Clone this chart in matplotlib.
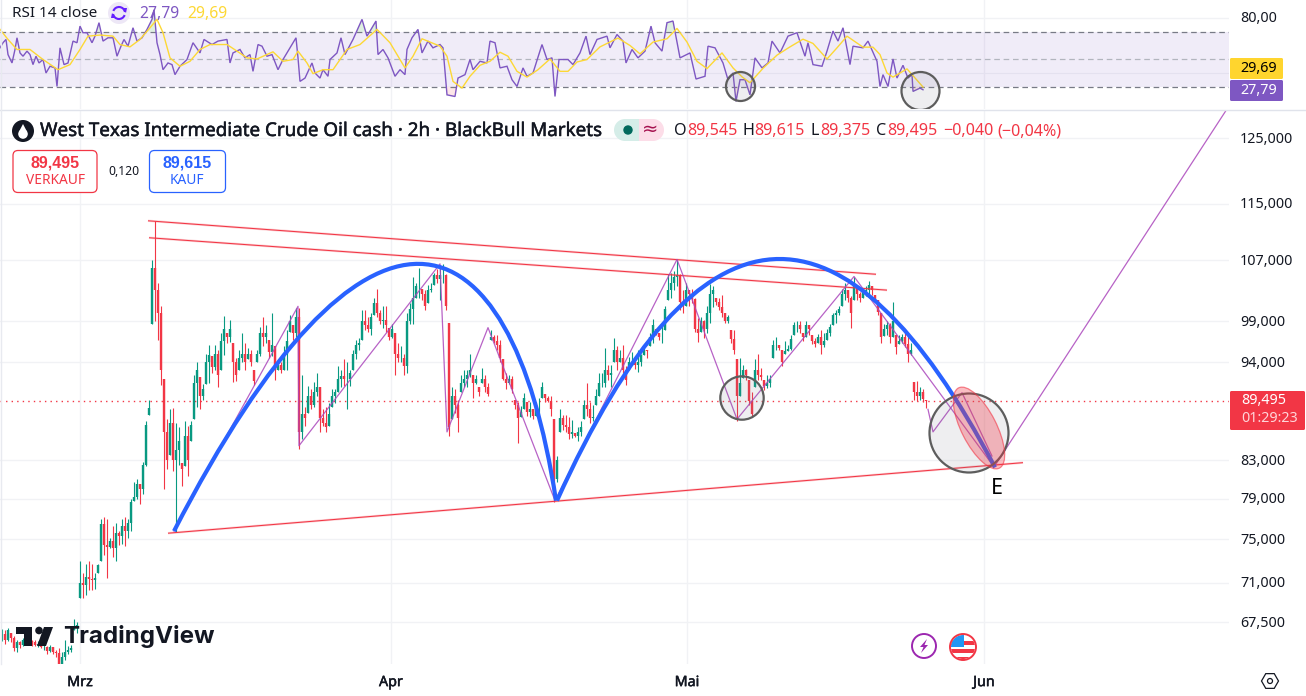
import numpy as np
import matplotlib
matplotlib.use("Agg")
import matplotlib.pyplot as plt
import matplotlib.patheffects as pe
from matplotlib.path import Path
from matplotlib.transforms import ScaledTranslation
from matplotlib.patches import Circle, Ellipse, Rectangle, FancyBboxPatch, Polygon, Arc, PathPatch

FONT = "Noto Sans"
plt.rcParams["font.family"] = [FONT, "DejaVu Sans"]

# ---------- price data (thousands) ----------
candle_high = [
 66.9,66.8,67.0,66.6,66.3,66.0,65.9,66.2,66.4,66.2,
 66.0,66.0,65.9,65.8,65.7,65.5,65.6,65.4,65.2,65.3,
 65.0,66.0,65.5,65.6,67.8,67.5,73.0,71.9,72.7,73.0,
 72.7,71.9,72.7,77,77.2,77,75.1,76.3,76.6,75.8,
 77,77.2,77,79,80.7,81,80.5,82.8,87.2,89.6,
 107,112.4,104,101,92,87.4,88.5,88.7,87,86.5,
 82.7,87.2,86.6,87.2,92.4,94,92.2,91.4,95,96,
 94.7,96,95.5,97.5,99.7,97.5,99.1,96.3,94.5,95.5,
 97.5,96.3,95.7,95.5,93.1,95.5,98.3,99.5,98.5,96.7,
 100,95.9,94.3,94,95.9,97.9,99.8,98.5,100.7,100.7,
 92.5,88.8,91.2,90.8,91.6,92.7,91,88.5,88.8,89.2,
 90.8,90.8,93.5,93.1,94.3,94,93.1,95.5,96.7,96.9,
 100.4,100.4,99.5,100,102,103.2,100.4,100.9,101,98.1,
 98.7,97.5,96.3,95.9,95,100,101.3,104.7,104,106,
 103.2,103,103.7,104,105.3,105.8,106,106.5,105.2,98.8,
 91.1,90.8,89.6,92.5,93,93,95,92.5,92.5,91,
 93.3,92.5,91.5,97.9,97.3,97.3,96.7,94.3,92.7,92.5,
 92.3,89.6,89.3,88.9,90.4,89.3,89.3,88.5,89.3,89.8,
 91.6,90.2,90,90,87.4,83.4,88.5,87.9,87.9,87.6,
 87.3,85.9,86.5,87.2,89.6,91.5,89.3,89,90.8,92.7,
 92.7,95.7,93.7,93.7,96.9,95.9,95.4,96,93.5,94.6,
 95.2,94.5,95.5,95,96,95.5,97.5,99.3,98,97.5,
 98.7,101,105.2,105.3,105.6,107,105.2,103,104,103,
 103.2,102,99.4,99.5,99.1,100.9,103.8,103.5,102,102,
 102.3,100,99.8,97.9,97.9,94.3,94.5,93.6,93.2,91.9,
 90.5,94.3,95,93.3,91.9,92.5,92.5,96.7,97,96,
 95.5,96.5,96,97.3,98.9,99,99,97.5,99,98.5,
 97.3,96.9,97.4,97.9,97.5,98,98.7,100,100.4,100.9,
 103.2,104,103,102.2,104.7,103.3,102.7,103.3,103.5,104.2,
 103.5,102.3,101.7,100,98.7,99,98.8,101.4,97.3,97.3,
 97.4,98,97.3,96.3,91.6,91.8,91.1,90.8,89.6]
candle_low = [
 65.9,65.7,65.9,65.8,65.1,65.0,65.3,65.5,65.8,65.7,
 65.5,65.5,65.4,65.3,65.2,64.8,65.0,64.8,64.6,63.7,
 63.8,64.3,64.8,65.0,66.8,66.6,69.6,69.6,69.9,70.3,
 70.3,70.4,71.9,73,73.5,71.4,74.2,73.3,73,74.5,
 74.6,74.4,75.1,75.8,78.8,79,78.5,79.5,82.4,87.9,
 98.7,99,96.7,91.3,80,82,83.5,81.8,75.7,82.5,
 80.3,82.4,81.3,85,87.4,88.8,88.5,89.6,91.4,91.5,
 92.7,93.1,91,93.1,94.8,96.3,96.4,91.6,91.7,93,
 94,93.1,94.3,93.5,91.3,94,94.7,95.9,96.3,94.5,
 94.7,91.9,93.1,92.7,93.1,93,97.6,96.7,97,84.2,
 85.2,86.6,88.1,88.5,88.8,90,86,86.6,86,86.6,
 88.8,89.2,90.5,91,91.2,88.5,91.2,93.1,94.3,95.5,
 96.7,97.9,97.6,97.3,99.8,99.5,98.7,98.1,97.7,96.7,
 96.9,92.5,94,94,92.5,92.7,98.7,98.7,102,102,
 101.7,100.4,101.3,102.7,103.7,104,101.7,104,100.4,85.5,
 87.4,88.1,86,90.5,91,91,92.2,89.8,91.4,90,
 91.5,90.5,90,96.7,96.3,95.5,94,91.9,90.8,91.4,
 90.4,88.5,84.8,87.7,88.5,87.8,87.7,87.4,87.8,88,
 89.8,89.3,89.3,87.8,78.7,80.7,86,86.2,86,85.2,
 85.3,85.4,85,85.6,87.4,87.8,87,87.2,89,90,
 91.1,91.1,91.9,91,94,93.1,94,92.7,91.3,93.1,
 93.6,93.2,92.8,93.5,94.8,94.5,95.9,96.3,97.3,96.7,
 96.3,97.9,101.7,102,103,103.5,100.4,100.1,101,101,
 101.3,97.7,96.4,97.6,96.9,97.5,98.8,100.8,101.1,100.4,
 99.5,98.8,98.8,96.3,95,87.2,90,92.1,91.9,89,
 87.6,91,91.9,91.9,90.7,90.9,91,94.5,95.5,95.4,
 93.5,95,95.3,95.5,97.3,97.7,97.5,96.5,97,97.3,
 96.2,95.8,96.3,95,95.8,96.7,97.2,98.5,98.8,99.8,
 100.9,101.7,101.5,98.1,101.7,101.7,101.5,102,102.2,102.2,
 102.4,101.5,99.8,96.3,97.2,97.3,96.3,97,95,96.2,
 96.3,95.8,94,94.8,89.6,89.5,89.6,89.3,88.7]
candle_close = [
 66.5,66.0,66.8,66.2,65.3,65.8,65.6,66.0,66.2,65.9,
 65.8,65.6,65.7,65.4,65.4,65.1,65.4,65.0,64.9,63.9,
 64.6,65.0,65.2,65.3,67.0,67.3,71.0,70.8,71.5,71.3,
 71.2,71.4,72.6,76.5,74.5,74.3,74.9,74.2,75.6,75.3,
 76.3,75.8,76.6,78.7,79.2,80.5,80,82.5,86.8,88.7,
 106,103,100,93,86,83,87,83,84,85,
 82,85.6,83,86.8,91.5,93,90,90.8,94,94.8,
 93.4,95,92.5,96.5,98,97,98,94,92.5,94.5,
 95,94,95,94,91.8,95,97.5,97,97.5,95.2,
 96,93,93.6,93,95,96.5,99,97.5,99.5,86,
 88,87.5,90,89,90.5,91,87.5,87,86.5,88,
 90,90.5,92,92.3,92,92,92.7,95,96,96.3,
 99,98.5,98,99.5,101.3,100,99,99.2,98.5,97,
 98,95,94.5,94.5,93.5,99,100.5,102,103.5,103.5,
 102.5,101,103,103.2,105,104.5,105,105,101,86.5,
 90,89,87.5,91.5,92,92.5,93,91.5,92,90.5,
 92,91,90.3,97,96.5,96,94.5,92,91.5,92,
 90.8,89,87.5,88.2,89.8,88.2,88.5,87.8,89,89,
 91,89.8,89.5,88.5,81,83,87.5,86.8,86.5,85.8,
 86,85.6,86,86.5,89,88.5,87.5,87.7,90,91.5,
 91.5,93,92.5,92.7,95.5,94,94.5,93,91.9,94,
 94,93.6,94,94.8,95.5,95.3,97,98.5,97.7,97,
 97,100.5,103,104,104.7,105,101.5,101,103,102.5,
 101.8,98,97.5,99,98,100,102.5,103,101.5,100.8,
 100,99,99.5,96.8,95.5,90,91.5,93,92.5,89.5,
 88,93,92.5,92.2,91.2,91.5,92,96,96,95.7,
 94,95.3,95.6,96.8,98.5,98.5,98,97,98.5,98,
 96.5,96.2,97,96,96.5,97.5,98.3,99.8,100,100.5,
 102.5,103,102,100,103.5,102.5,102,102.8,103,103.7,
 103,101.8,100.2,97,98,98.5,97,99,95.8,96.6,
 97,96.2,95,95.5,90.5,90,90.5,89.7,89.5]
candle_first_x = 2
candle_step = 3
last_price = 89.495

# drawings
zigzag_x = [174,298,299,440,447,488,555,677,737,854,993]
zigzag_p = [75.8,100.9,84.5,106.5,86.0,98.2,78.8,107.1,87.4,104.8,82.4]
zigzag2_x = [928,933,962,992]
zigzag2_p = [88.5,86.0,90.4,83.4]
leg_x = [995,1227]
leg_p = [82.4,129.7]
trend_x = [[148,876],[149,887],[168,1023]]
trend_p = [[112.5,105.1],[110.1,103.0],[75.6,82.7]]
# arcs: start, two control points, end of each drawn curve
arc1_x = [174,365,510,556]
arc1_p = [75.8,121.5,115.6,78.8]
arc2_x = [557,699,845,995]
arc2_p = [78.8,117.6,118.1,82.2]

price_ticks = [125,115,107,99,94,83,79,75,71,67.5]
price_labels = ["125,000","115,000","107,000","99,000","94,000","83,000","79,000","75,000","71,000","67,500"]
month_ticks = [80,391,687,984]
month_labels = ["Mrz","Apr","Mai","Jun"]

# RSI
rsi_x = [0,3,6,8,12,15,17,20,23,27,30,33,36,39,43,46,50,55,57,60,64,68,73,77,80,83,87,92,95,99,103,108,113,117,121,124,128,133,137,142,147,152,154,157,160,163,168,172,175,180,187,193,200,204,212,218,227,230,233,240,245,250,253,258,262,267,272,278,283,290,296,298,300,305,312,315,320,323,328,330,337,341,345,353,362,367,376,378,383,388,395,400,405,407,412,418,422,428,433,
 440,443,447,455,458,465,470,473,480,487,490,495,500,507,512,517,523,527,533,542,547,552,555,559,568,573,580,586,590,597,607,610,617,623,626,632,638,645,651,655,662,667,673,680,690,696,705,708,715,723,728,733,736,740,745,750,755,762,768,772,780,788,797,805,808,813,822,827,833,838,843,850,853,863,868,877,880,883,888,893,897,903,908,912,913,920,923]
rsi_val = [58.3,62,64.4,53.4,47.3,57.1,65.6,54.6,52.2,55.9,53.4,46.1,52.2,47.3,49.8,40,44.9,43.7,30.2,58.3,46.1,47.3,63.2,62,74.1,69.3,69.3,62,66.8,76.6,63.2,65.6,65.6,52.2,59.5,64.4,59.5,72.9,63.2,65.6,71.7,79,86,62,53.4,42.4,47.3,46.1,38.8,44.9,49.8,62,54.6,64.4,60.7,63.2,64.4,47.3,54.6,57.1,51,53.4,41.2,60.7,59.5,52.2,53.4,42.4,49.8,58.3,65.6,51,33.9,36.3,47.3,40,36.3,42.4,37.6,49.8,54.6,65.6,53.4,64.4,79,66.8,77.8,53.4,57.1,51,37.6,42.4,38.8,57.1,65.6,71.7,54.6,63.2,58.3,
 60.7,58.3,24.1,22.9,36.3,38.8,49.8,42.4,48.5,47.3,63.2,62,43.7,44.9,35.1,30.2,43.7,37.6,40,60.7,49.8,51,22.9,49.8,49.8,46.1,54.6,66.8,53.4,64.4,66.8,58.3,68,63.2,47.3,57.1,51,55.9,74.1,62,55.9,76.6,77.8,51,54.6,35.6,37.6,59.5,58.3,47.3,35.1,40,19.3,35.1,35.1,24.1,51,43.7,47.3,63.2,54.6,66.8,69.3,52.2,62,46.1,44.9,55.9,70.5,63.2,72.9,46.1,59.5,58.3,63.2,48.5,30.2,38.8,30.2,50.2,36.3,45.6,36.3,38.8,26.6,29,27.8]
ma_x = [0,8,17,30,43,58,70,80,88,100,113,120,130,140,150,157,163,170,180,190,200,210,227,237,247,257,273,283,293,298,307,313,323,333,347,360,377,390,405,413,422,440,447,453,462,470,480,490,500,508,517,527,538,550,560,568,577,587,600,618,630,640,653,667,677,687,697,707,722,733,742,750,763,777,790,803,813,827,837,847,863,873,880,887,893,907,923]
ma_val = [71.7,64.4,57.1,57.1,49.8,42.4,46.1,57.1,66.8,67.6,66.8,60.7,59,64.4,72.9,79,69.3,51,44.9,48.5,57.1,60.7,60.7,55.9,51,50.2,55.4,48.5,49.8,55.9,47.3,39.5,42.4,42.4,57.1,60.7,71.7,62,43.7,52.2,64.9,59.5,52.2,33.9,29,37.6,45.6,48.5,55.1,52.2,41.2,37,42.4,50.2,41.2,41.2,48,49.8,59,65.4,60,53.9,62.5,64.9,72.4,62.5,48.5,43.2,54.6,43.7,37.2,32.9,43.4,53,59,64.6,61.5,50.2,58.3,66.8,58.8,58.8,53.4,40,37,43,29.8]
rsi_ticks = [80]
rsi_labels = ["80,00"]

# ---------- colours ----------
UP, DOWN = "#089981", "#f23645"
BLUE, PURPLE, ZIG = "#2962ff", "#7e57c2", "#ab47bc"
YELLOW, TEXT, GRID = "#fdd835", "#131722", "#f1f2f5"

W, H = 1306, 696
fig = plt.figure(figsize=(W/100, H/100), dpi=100, facecolor="white")

def area(l, t, r, b):
    return [l/W, 1-b/H, (r-l)/W, (b-t)/H]

def nudge(labels, dy_px):
    off = ScaledTranslation(0, dy_px/100, fig.dpi_scale_trans)
    for lab in labels:
        lab.set_transform(lab.get_transform() + off)

thick = [pe.withStroke(linewidth=0.35, foreground=TEXT)]

# ---------- RSI pane ----------
ar = fig.add_axes(area(0, 0, 1229, 109))
ar.set_xlim(0, 1229); ar.set_ylim(13.8, 93.1)
ar.axhspan(30, 70, color=PURPLE, alpha=0.11, lw=0)
ar.axhline(40, color="#e4e1ef", lw=0.8, zorder=1)
ar.axhline(70, color="#787b86", lw=0.9, ls=(0, (4.5, 3)))
ar.axhline(30, color="#787b86", lw=0.9, ls=(0, (4.5, 3)))
ar.axhline(50, color="#b2b5be", lw=0.9, ls=(0, (4.5, 3)))
rv = np.array(rsi_val); rx = np.array(rsi_x)
ar.fill_between(rx, 70, rv, where=rv > 70, interpolate=True, color="#4caf50", alpha=0.18, lw=0)
ar.fill_between(rx, 30, rv, where=rv < 30, interpolate=True, color="#f23645", alpha=0.12, lw=0)
ar.plot(rx, rv, color=PURPLE, lw=1.0, solid_joinstyle="miter", zorder=3)
ar.plot(ma_x, ma_val, color=YELLOW, lw=1.0, zorder=4)
ar.yaxis.tick_right()
ar.set_yticks(rsi_ticks); ar.set_yticklabels(rsi_labels, fontsize=10.3, color=TEXT)
ar.set_xticks(month_ticks); ar.set_xticklabels([])
ar.tick_params(length=0, pad=8)
ar.grid(True, color=GRID, lw=1)
ar.set_axisbelow(True)
for s in ar.spines.values():
    s.set_visible(False)
nudge(ar.get_yticklabels(), 2)

# ---------- price pane ----------
ax = fig.add_axes(area(0, 110, 1229, 664))
ax.set_xlim(0, 1229); ax.set_yscale("log"); ax.set_ylim(64.01, 129.53)
ax.yaxis.tick_right()
ax.set_yticks(price_ticks); ax.set_yticklabels(price_labels, fontsize=10.3, color=TEXT)
ax.yaxis.set_minor_locator(matplotlib.ticker.NullLocator())
ax.set_xticks(month_ticks)
ax.set_xticklabels(month_labels, fontsize=10.3, color=TEXT, path_effects=thick)
ax.tick_params(length=0)
ax.tick_params(axis="y", pad=8)
ax.tick_params(axis="x", pad=8)
ax.grid(True, color=GRID, lw=1)
ax.set_axisbelow(True)
for s in ax.spines.values():
    s.set_visible(False)
nudge(ax.get_yticklabels(), 0.7)

ax.axhline(last_price, color=DOWN, lw=1, ls=(0, (1, 3)), zorder=2)

closes = np.array(candle_close); highs = np.array(candle_high); lows = np.array(candle_low)
cx = candle_first_x + candle_step*np.arange(len(closes))
opens = np.clip(np.r_[closes[0], closes[:-1]], lows, highs)
cols = [UP if c >= o else DOWN for o, c in zip(opens, closes)]
ax.vlines(cx, lows, highs, colors=cols, lw=0.8, zorder=3)
ax.vlines(cx, opens, closes, colors=cols, lw=1.7, zorder=3)

for xs, ps in zip(trend_x, trend_p):
    ax.plot(xs, ps, color=DOWN, lw=1.7, alpha=0.22, zorder=4, solid_capstyle="butt")
    ax.plot(xs, ps, color=DOWN, lw=0.75, zorder=4, solid_capstyle="butt")
for xs, ps in ((zigzag_x, zigzag_p), (zigzag2_x, zigzag2_p), (leg_x, leg_p)):
    ax.plot(xs, ps, color=ZIG, lw=0.9, alpha=0.85, zorder=5)
bez = [Path.MOVETO, Path.CURVE4, Path.CURVE4, Path.CURVE4]
for xs, ps in ((arc1_x, arc1_p), (arc2_x, arc2_p)):
    ax.add_patch(PathPatch(Path(np.c_[xs, ps], bez), fc="none", ec=BLUE, lw=3.0, zorder=6, capstyle="butt"))

# ---------- overlay for annotations / interface elements ----------
ui = fig.add_axes([0, 0, 1, 1], facecolor="none", zorder=10)
ui.set_xlim(0, W); ui.set_ylim(H, 0); ui.axis("off")

def t(x, y, s, size=10.3, color=TEXT, ha="left", va="center", weight="normal", **kw):
    return ui.text(x, y, s, fontsize=size, color=color, ha=ha, va=va, fontweight=weight, **kw)

ui.plot([0, W], [109.5, 109.5], color="#e0e3eb", lw=1)
ui.plot([0.5, 0.5], [0, 664], color="#e8eaf0", lw=1)

# circles and ellipse
for (cxp, cyp, r) in ((969, 433, 39.5), (742, 398, 21.7), (740.5, 86.5, 14.5)):
    ui.add_patch(Circle((cxp, cyp), r, fc=(0.47, 0.48, 0.53, 0.12), ec="#5d5d5d", lw=1.6))
c4 = Circle((920.5, 91), 19, fc=(0.47, 0.48, 0.53, 0.12), ec="#5d5d5d", lw=1.6)
ui.add_patch(c4)
c4.set_clip_path(Rectangle((0, 0), W, 109, transform=ui.transData))
ui.add_patch(Ellipse((979, 428), 35, 90, angle=-27, fc=(0.95, 0.21, 0.27, 0.32), ec=(0.95, 0.21, 0.27, 0.6), lw=0.9))
t(990.5, 489, "E", size=15.5, color="#000000")

# RSI legend
t(12, 13.5, "RSI 14 close", size=11)
ui.add_patch(Circle((119, 13), 11, fc="#ede7f6", ec="none"))
ui.add_patch(Arc((119, 13), 12, 12, theta1=200, theta2=350, color="#651fff", lw=1.5))
ui.add_patch(Arc((119, 13), 12, 12, theta1=20, theta2=170, color="#651fff", lw=1.5))
ui.add_patch(Polygon([(122, 8), (127, 8), (126, 13)], fc="#651fff", ec="none"))
ui.add_patch(Polygon([(116, 18), (111, 18), (112, 13)], fc="#651fff", ec="none"))
t(139, 13.5, "27,79", size=11.3, color=PURPLE)
t(187, 13.5, "29,69", size=11.3, color=YELLOW)

# symbol title
ui.add_patch(Circle((23, 131), 11, fc="#131722", ec="none"))
ui.add_patch(Circle((23, 134), 4.8, fc="white", ec="none"))
ui.add_patch(Polygon([(23, 124), (18.8, 132), (27.2, 132)], fc="white", ec="none"))
t(40, 131, "West Texas Intermediate Crude Oil cash · 2h · BlackBull Markets", size=13.55, path_effects=thick)

# status pill
ui.add_patch(Rectangle((625, 119), 14, 22, fc="#d5ede8", ec="none"))
ui.add_patch(Circle((625, 130), 11, fc="#d5ede8", ec="none"))
ui.add_patch(Rectangle((639, 119), 14, 22, fc="#fcdde8", ec="none"))
ui.add_patch(Circle((653, 130), 11, fc="#fcdde8", ec="none"))
ui.add_patch(Circle((628, 130), 4.7, fc="#00695c", ec="none"))
t(650, 130, "≈", size=14, color="#a5124f", ha="center")

# OHLC
for x, s, c in ((674, "O", TEXT), (687, "89,545", DOWN), (742, "H", TEXT), (754, "89,615", DOWN),
                (811, "L", TEXT), (820, "89,375", DOWN), (876, "C", TEXT), (887, "89,495", DOWN),
                (943, "−0,040", DOWN), (997, "(−0,04%)", DOWN)):
    t(x, 131, s, size=11.6, color=c)

# buy/sell buttons
ui.add_patch(FancyBboxPatch((13, 150.5), 84, 42, boxstyle="round,pad=0,rounding_size=5", fc="white", ec=DOWN, lw=0.9))
ui.add_patch(FancyBboxPatch((149.5, 150.5), 76, 42, boxstyle="round,pad=0,rounding_size=5", fc="white", ec=BLUE, lw=0.9))
t(55, 163, "89,495", size=11.5, color=DOWN, ha="center", weight="bold", family="Liberation Sans")
t(55, 180, "VERKAUF", size=9.9, color=DOWN, ha="center")
t(124, 171.5, "0,120", size=8.8, color=TEXT, ha="center")
t(187, 163, "89,615", size=11.5, color=BLUE, ha="center", weight="bold", family="Liberation Sans")
t(187, 180, "KAUF", size=9.9, color=BLUE, ha="center")

# price badges
ui.add_patch(FancyBboxPatch((1230, 58), 53, 21, boxstyle="round,pad=0,rounding_size=1.5", fc="#ffd52e", ec="none"))
ui.add_patch(FancyBboxPatch((1230, 80), 53, 21, boxstyle="round,pad=0,rounding_size=1.5", fc=PURPLE, ec="none"))
t(1240, 68, "29,69", color="#000000")
t(1240, 90, "27,79", color="#ffffff")
ui.add_patch(FancyBboxPatch((1230, 391), 75, 39, boxstyle="round,pad=0,rounding_size=1.5", fc=DOWN, ec="none"))
t(1241, 401, "89,495", color="#ffffff")
t(1241, 419, "01:29:23", color="#ffd5d9")

# TradingView logo
LOGO = "#131722"
ui.add_patch(Polygon([(16, 627), (32, 627), (32, 646), (24, 646), (24, 634), (16, 634)], fc=LOGO, ec="none"))
ui.add_patch(Circle((39, 630.5), 3.8, fc=LOGO, ec="none"))
ui.add_patch(Polygon([(44, 627), (53, 627), (46, 646), (37, 646)], fc=LOGO, ec="none"))
t(63, 637, "TradingView", size=17.4, color=LOGO, weight="bold", family="Inter")

# bottom icons
ui.add_patch(Circle((924, 646), 12, fc="white", ec="#9c27b0", lw=1.4))
ui.add_patch(Polygon([(927, 639), (920, 647), (923.5, 647), (921, 653), (928, 645), (924.5, 645)], fc="#9c27b0", ec="none"))
flag_bg = Circle((963, 647), 12, fc="white", ec="none")
ui.add_patch(flag_bg)
for y0, y1 in ((641, 645), (649, 653), (657, 660)):
    rc = Rectangle((950, y0), 26, y1-y0, fc="#f23645", ec="none")
    ui.add_patch(rc); rc.set_clip_path(flag_bg)
rc = Rectangle((950, 634), 14, 13, fc="#2196f3", ec="none")
ui.add_patch(rc); rc.set_clip_path(flag_bg)
ui.add_patch(Circle((963, 647), 13, fc="none", ec="#f23645", lw=1.4))

# settings
ang = np.radians(np.arange(0, 360, 60))
ui.add_patch(Polygon(np.c_[1270 + 8.5*np.cos(ang), 681 + 8.5*np.sin(ang)], fc="none", ec=TEXT, lw=0.9))
ui.add_patch(Circle((1270, 681), 2.5, fc="none", ec=TEXT, lw=0.9))

fig.savefig("out.png", dpi=100)
